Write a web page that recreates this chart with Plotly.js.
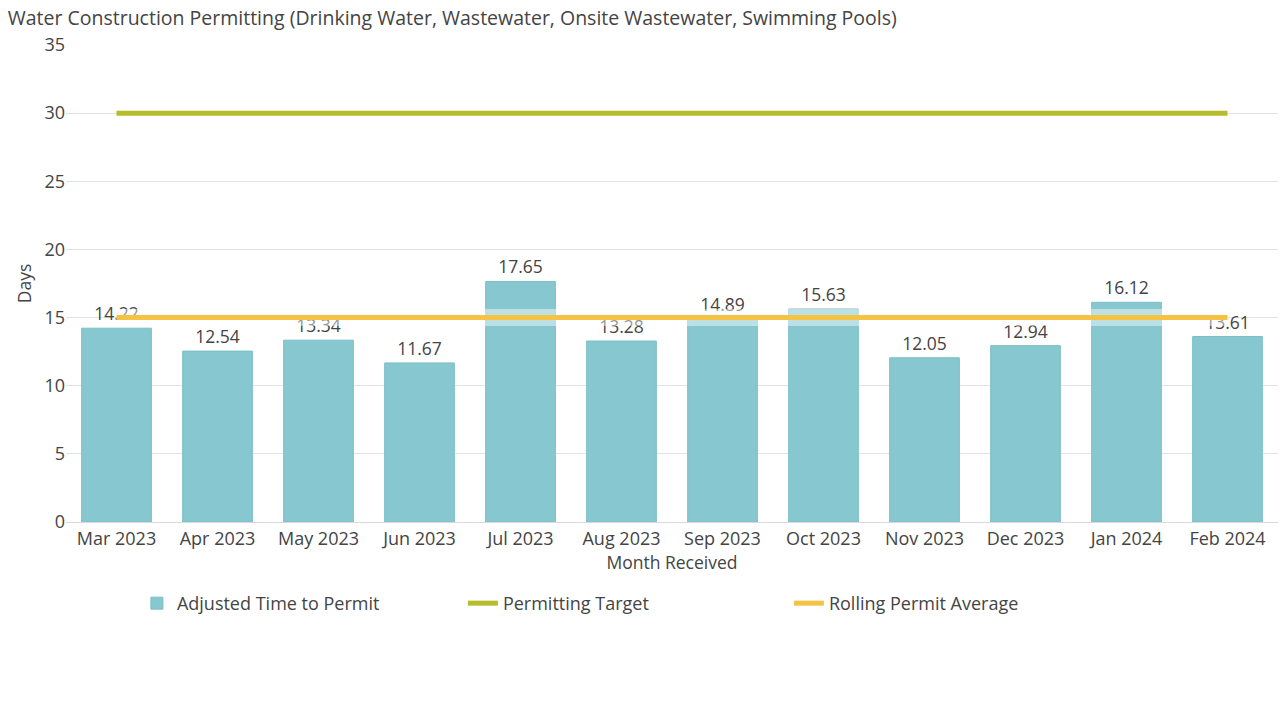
<!DOCTYPE html>
<html>
<head>
<meta charset="utf-8">
<script src="https://cdn.plot.ly/plotly-3.0.1.min.js"></script>
<style>
  body { margin: 0; background: #fff; }
  #plot { width: 1285px; height: 701px; }
</style>
</head>
<body>
<div id="plot"></div>
<script>
// Chart data
const months = ["Mar 2023", "Apr 2023", "May 2023", "Jun 2023", "Jul 2023", "Aug 2023",
                "Sep 2023", "Oct 2023", "Nov 2023", "Dec 2023", "Jan 2024", "Feb 2024"];
const adjustedDays = [14.22, 12.54, 13.34, 11.67, 17.65, 13.28, 14.89, 15.63, 12.05, 12.94, 16.12, 13.61];
const targetDays = [30, 30, 30, 30, 30, 30, 30, 30, 30, 30, 30, 30];
const rollingAvg = [15, 15, 15, 15, 15, 15, 15, 15, 15, 15, 15, 15];

const plotDiv = document.getElementById("plot");

const data = [
  {
    x: months,
    y: adjustedDays,
    type: 'bar',
    name: 'Adjusted Time to Permit',
    marker: { color: '#87c7cf', line: { color: '#7bbfc8', width: 1 } },
    width: 0.69,
    text: adjustedDays.map(v => v.toFixed(2)),
    textposition: 'outside',
    textfont: { size: 17.5, color: '#444' },
    cliponaxis: false
  },
  {
    x: months,
    y: targetDays,
    type: 'scatter',
    mode: 'lines',
    name: 'Permitting Target',
    line: { color: '#b5bd2c', width: 5 }
  },
  // soft halo under the average line
  {
    x: months,
    y: rollingAvg,
    type: 'scatter',
    mode: 'lines',
    showlegend: false,
    hoverinfo: 'skip',
    line: { color: 'rgba(255,255,255,0.45)', width: 17 }
  },
  {
    x: months,
    y: rollingAvg,
    type: 'scatter',
    mode: 'lines',
    name: 'Rolling Permit Average',
    line: { color: '#f5c343', width: 5 }
  }
];

const layout = {
  width: 1285,
  height: 701,
  margin: { l: 66, r: 7, t: 45, b: 179 },
  paper_bgcolor: '#fff',
  plot_bgcolor: '#fff',
  font: { family: '"Open Sans", sans-serif', color: '#444', size: 18 },
  title: {
    text: 'Water Construction Permitting (Drinking Water, Wastewater, Onsite Wastewater, Swimming Pools)',
    x: 0.006, xanchor: 'left', y: 0.974, yanchor: 'middle',
    font: { size: 19.5, color: '#444' }
  },
  xaxis: {
    title: { text: 'Month Received', font: { size: 17.5 }, standoff: 8 },
    tickfont: { size: 18 },
    showgrid: false,
    showline: true,
    linecolor: '#d9d9d9',
    ticks: '',
    range: [-0.5, 11.5]
  },
  yaxis: {
    title: { text: 'Days', font: { size: 17.5 }, standoff: 8 },
    range: [0, 35],
    dtick: 5,
    tickfont: { size: 18 },
    gridcolor: '#e3e3e3',
    zeroline: false,
    ticks: ''
  },
  showlegend: true,
  legend: {
    orientation: 'h',
    x: 0.0585, xanchor: 'left',
    y: -0.132, yanchor: 'top',
    entrywidth: 281,
    entrywidthmode: 'pixels',
    font: { size: 18, color: '#444' },
    traceorder: 'normal'
  },
  bargap: 0.31
};

Plotly.newPlot(plotDiv, data, layout, { displayModeBar: false });
</script>
</body>
</html>
